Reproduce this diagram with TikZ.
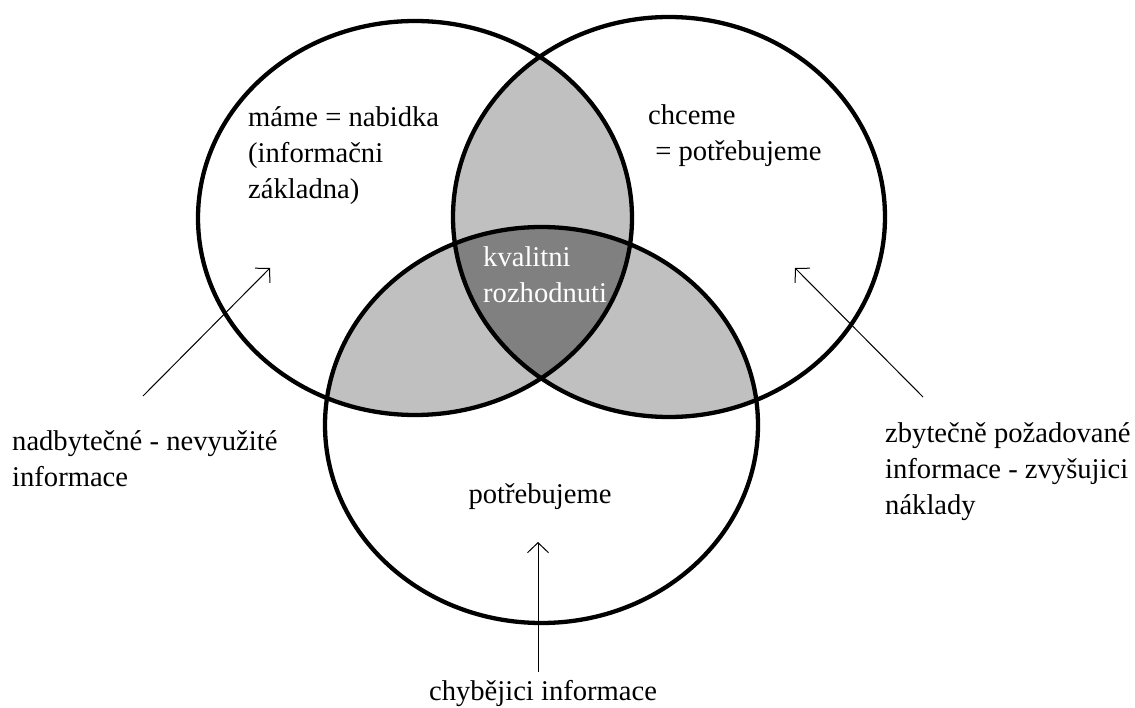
\documentclass[tikz,border=0pt]{standalone}
\usepackage{fontspec}
\setmainfont{Liberation Serif}
\usetikzlibrary{arrows.meta}
\definecolor{lightfill}{HTML}{C0C0C0}
\definecolor{darkfill}{HTML}{808080}
\begin{document}
\begin{tikzpicture}[x=1pt,y=-1pt,
  circ/.style={draw=black,line width=4.3pt},
  lbl/.style={inner sep=0pt,font=\fontsize{28.6}{36}\selectfont},
  arr/.style={line width=1pt,-{Straight Barb[length=10pt,width=21pt]}}]
\useasboundingbox (0,0) rectangle (1135,708);
\def\cA{(415,218) ellipse [x radius=217pt, y radius=197pt]}
\def\cB{(669,217) ellipse [x radius=216pt, y radius=200pt]}
\def\cC{(541.5,425) ellipse [x radius=216.5pt, y radius=198pt]}
% pairwise overlaps
\begin{scope}
  \clip \cA;
  \fill[lightfill] \cB;
  \fill[lightfill] \cC;
\end{scope}
\begin{scope}
  \clip \cB;
  \fill[lightfill] \cC;
\end{scope}
% triple overlap
\begin{scope}
  \clip \cA;
  \clip \cB;
  \fill[darkfill] \cC;
\end{scope}
% outlines
\draw[circ] \cA;
\draw[circ] \cB;
\draw[circ] \cC;
% labels
\node[lbl,anchor=base west] (mame) at (248,127)
  {\begin{tabular}[t]{@{}l@{}}máme = nabidka\\(informačni\\základna)\end{tabular}};
\node[lbl,anchor=base west] (chceme) at (648,125)
  {\begin{tabular}[t]{@{}l@{}}chceme\\\ = potřebujeme\end{tabular}};
\node[lbl,anchor=base west,text=white] (kval) at (483,267)
  {\begin{tabular}[t]{@{}l@{}}kvalitni\\rozhodnuti\end{tabular}};
\node[lbl,anchor=base] (potreb) at (540,503) {potřebujeme};
\node[lbl,anchor=base west] (nadb) at (12,450)
  {\begin{tabular}[t]{@{}l@{}}nadbytečné - nevyužité\\informace\end{tabular}};
\node[lbl,anchor=base west] (zbyt) at (885,442)
  {\begin{tabular}[t]{@{}l@{}}zbytečně požadované\\informace - zvyšujici\\náklady\end{tabular}};
\node[lbl,anchor=base] (chyb) at (543,700) {chybějici informace};
% arrows
\coordinate (t1) at (143,396);
\coordinate (h1) at (270,268);
\coordinate (t2) at (923,397);
\coordinate (h2) at (795,268);
\coordinate (t3) at (538,672);
\coordinate (h3) at (538,542);
\draw[arr] (t1) -- (h1);
\draw[arr] (t2) -- (h2);
\draw[arr] (t3) -- (h3);
\end{tikzpicture}
\end{document}
